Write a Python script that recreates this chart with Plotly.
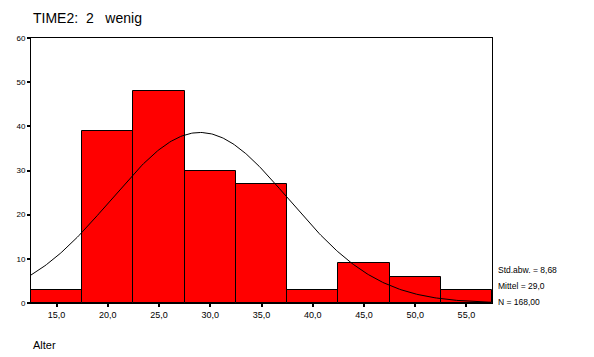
import numpy as np
import plotly.graph_objects as go

bin_centers = [15, 20, 25, 30, 35, 40, 45, 50, 55]
counts = [3, 39, 48, 30, 27, 3, 9, 6, 3]
bin_width = 5
mean_val = 29.0
std_val = 8.68
n_val = 168
x_tickvals = [15, 20, 25, 30, 35, 40, 45, 50, 55]
x_ticktext = ["15,0", "20,0", "25,0", "30,0", "35,0", "40,0", "45,0", "50,0", "55,0"]
y_tickvals = [0, 10, 20, 30, 40, 50, 60]

xs = np.linspace(12.5, 57.5, 300)
ys = n_val * bin_width * np.exp(-0.5 * ((xs - mean_val) / std_val) ** 2) / (std_val * np.sqrt(2 * np.pi))

W, H = 594, 357
pl, pr, pt, pb = 31, 102, 38, 54
pw, ph = W - pl - pr, H - pt - pb
def px(x): return (x - pl) / pw
def py(y): return (H - pb - y) / ph

ann = []
ann.append(dict(text="TIME2:  2   wenig", x=px(31), y=py(18), xref="paper", yref="paper",
                showarrow=False, xanchor="left", yanchor="middle", font=dict(size=14)))
ann.append(dict(text="Alter", x=px(31), y=py(345), xref="paper", yref="paper",
                showarrow=False, xanchor="left", yanchor="middle", font=dict(size=11)))
for txt, yy in [("Std.abw. = 8,68", 270), ("Mittel = 29,0", 286), ("N = 168,00", 302)]:
    ann.append(dict(text=txt, x=px(496), y=py(yy), xref="paper", yref="paper",
                    showarrow=False, xanchor="left", yanchor="middle", font=dict(size=8.5)))

fig = go.Figure()
fig.add_trace(go.Bar(x=bin_centers, y=counts, width=bin_width,
                     marker=dict(color="#FF0000", line=dict(color="black", width=1)),
                     showlegend=False, hoverinfo="skip"))
fig.add_trace(go.Scatter(x=xs, y=ys, mode="lines", line=dict(color="black", width=1),
                         showlegend=False, hoverinfo="skip"))

fig.update_layout(
    width=W, height=H,
    margin=dict(l=pl, r=pr, t=pt, b=pb, autoexpand=False),
    paper_bgcolor="white", plot_bgcolor="white",
    font=dict(family="Arial, Liberation Sans", color="black", size=8),
    bargap=0,
    xaxis=dict(range=[12.5, 57.5], tickvals=x_tickvals, ticktext=x_ticktext,
               ticks="outside", ticklen=3, tickwidth=2, tickcolor="black",
               showgrid=False, zeroline=False, showline=True, linecolor="black",
               linewidth=1, mirror=True, tickfont=dict(size=9)),
    yaxis=dict(range=[0, 60], tickvals=y_tickvals,
               ticks="outside", ticklen=3, tickwidth=2, tickcolor="black",
               showgrid=False, zeroline=False, showline=True, linecolor="black",
               linewidth=1, mirror=True, tickfont=dict(size=8)),
    annotations=ann,
)

fig.write_html("out.html", config={"displayModeBar": False},
               post_script="document.body.style.margin='0';")
